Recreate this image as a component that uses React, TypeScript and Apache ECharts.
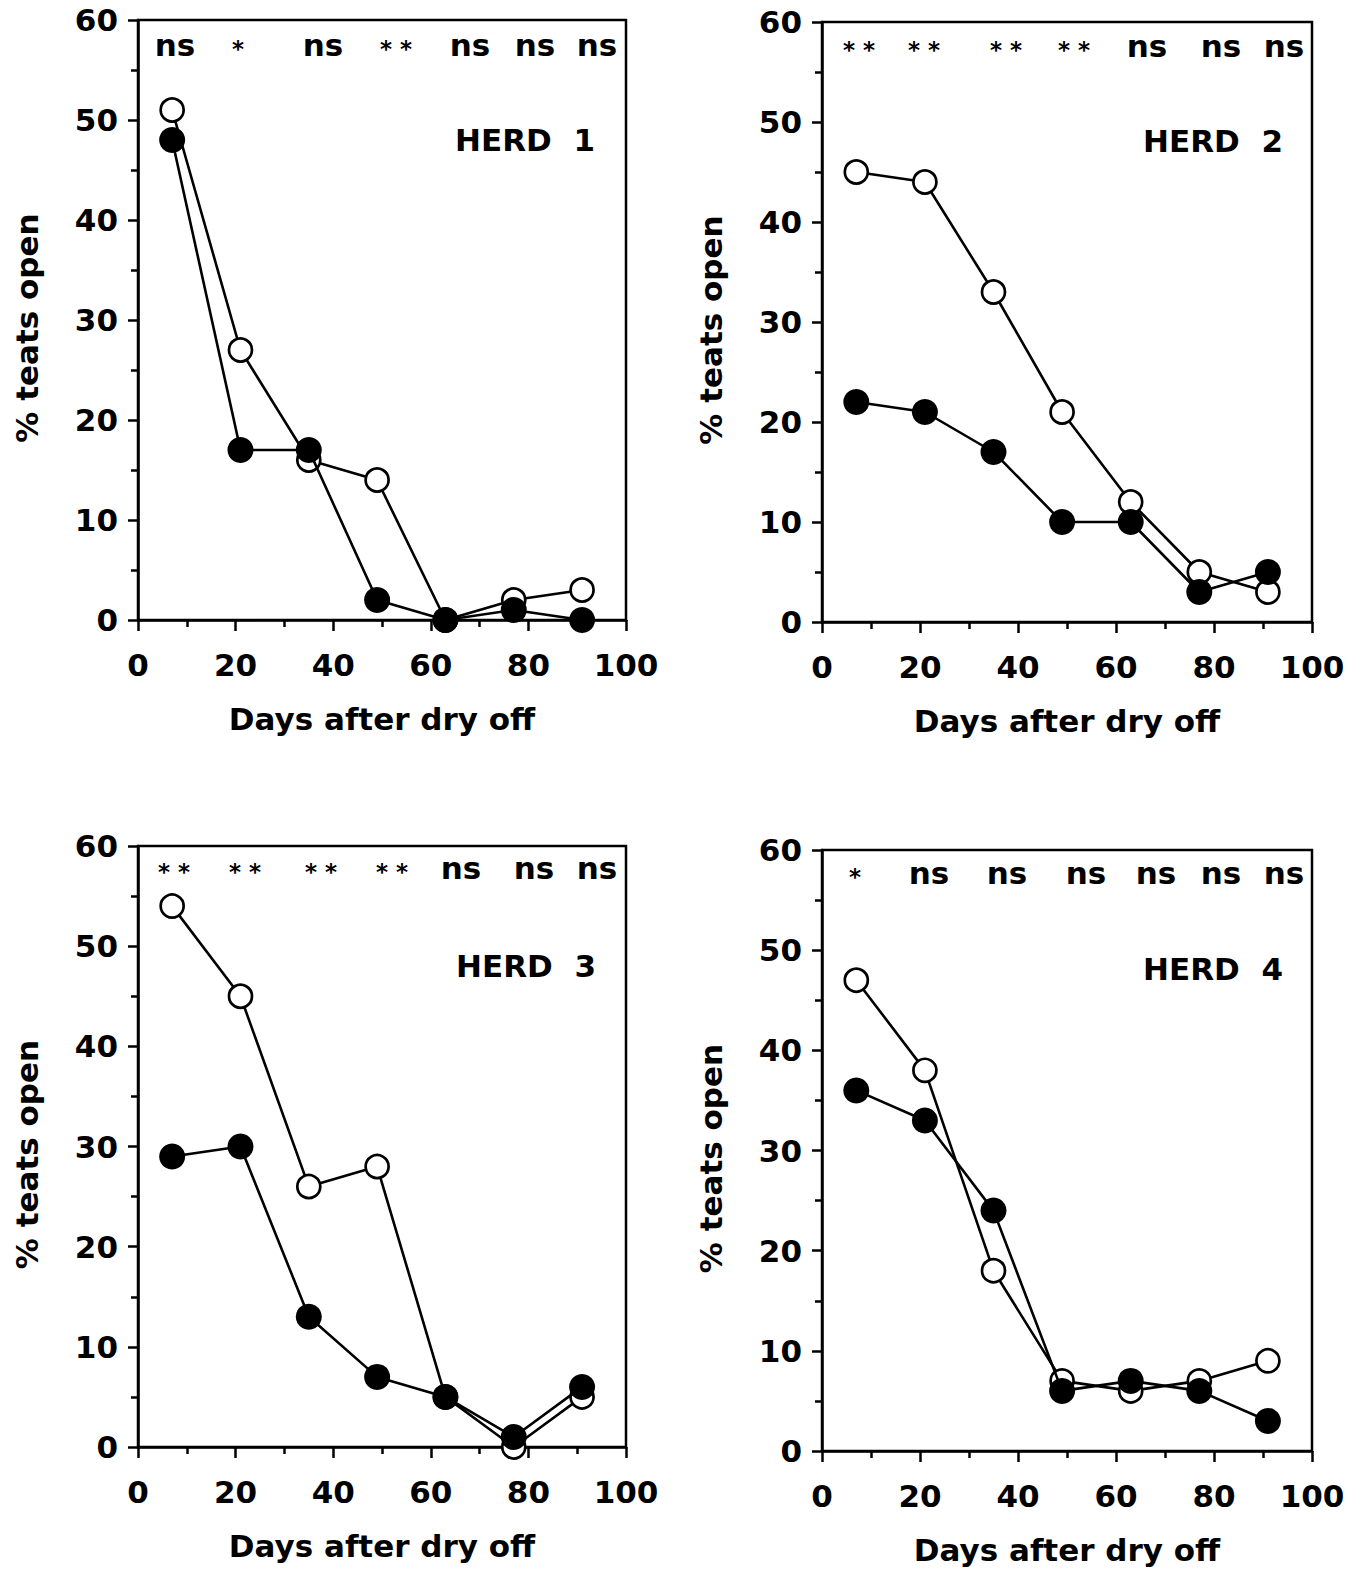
import React, { useEffect, useRef } from "react";
import * as echarts from "echarts";

const days = [7, 21, 35, 49, 63, 77, 91];

const herd1Open = [51, 27, 16, 14, 0, 2, 3];
const herd1Filled = [48, 17, 17, 2, 0, 1, 0];
const herd2Open = [45, 44, 33, 21, 12, 5, 3];
const herd2Filled = [22, 21, 17, 10, 10, 3, 5];
const herd3Open = [54, 45, 26, 28, 5, 0, 5];
const herd3Filled = [29, 30, 13, 7, 5, 1, 6];
const herd4Open = [47, 38, 18, 7, 6, 7, 9];
const herd4Filled = [36, 33, 24, 6, 7, 6, 3];

const sig1 = ["ns", "*", "ns", "**", "ns", "ns", "ns"];
const sig2 = ["**", "**", "**", "**", "ns", "ns", "ns"];
const sig3 = ["**", "**", "**", "**", "ns", "ns", "ns"];
const sig4 = ["*", "ns", "ns", "ns", "ns", "ns", "ns"];

const herdNames = ["HERD  1", "HERD  2", "HERD  3", "HERD  4"];
const xTitle = "Days after dry off";
const yTitle = "% teats open";

const FONT = "'DejaVu Sans', Verdana, sans-serif";
const FS = 31;

// layout (pixels)
const grids = [
  { left: 138, top: 20, width: 488, height: 600 },
  { left: 822, top: 22, width: 490, height: 600 },
  { left: 138, top: 846, width: 488, height: 601 },
  { left: 822, top: 850, width: 490, height: 601 },
];
const sigX = [
  [175, 238, 323, 396, 470, 535, 597],
  [859, 924, 1006, 1074, 1147, 1221, 1284],
  [174, 245, 321, 392, 461, 534, 597],
  [855, 929, 1007, 1086, 1156, 1221, 1284],
];
const sigY = [45, 46, 868, 873];
const herdPos = [
  { right: 595, y: 140 },
  { right: 1283, y: 141 },
  { right: 596, y: 966 },
  { right: 1283, y: 969 },
];

export default function App() {
  const ref = useRef<HTMLDivElement>(null);
  useEffect(() => {
    if (!ref.current) return;
    const chart = echarts.init(ref.current, null, { renderer: "svg" });
    const opens = [herd1Open, herd2Open, herd3Open, herd4Open];
    const filleds = [herd1Filled, herd2Filled, herd3Filled, herd4Filled];
    const sigs = [sig1, sig2, sig3, sig4];

    const gridOpts = grids.map((g) => ({
      ...g,
      show: true,
      borderColor: "#000",
      borderWidth: 2.5,
      backgroundColor: "transparent",
      containLabel: false,
    }));

    const xAxes = grids.map((_, i) => ({
      type: "value",
      gridIndex: i,
      min: 0,
      max: 100,
      interval: 20,
      name: xTitle,
      nameLocation: "middle",
      nameGap: 83,
      nameTextStyle: { fontSize: FS, fontWeight: "bold", color: "#000", fontFamily: FONT },
      axisLine: { show: true, lineStyle: { color: "#000", width: 2.5 } },
      axisTick: { show: true, inside: false, length: 11, lineStyle: { color: "#000", width: 2.5 } },
      minorTick: { show: true, splitNumber: 2, length: 7, lineStyle: { color: "#000", width: 2.5 } },
      splitLine: { show: false },
      minorSplitLine: { show: false },
      axisLabel: { fontSize: FS, fontWeight: "bold", color: "#000", fontFamily: FONT, margin: 29 },
    }));

    const yAxes = grids.map((_, i) => ({
      type: "value",
      gridIndex: i,
      min: 0,
      max: 60,
      interval: 10,
      name: yTitle,
      nameLocation: "middle",
      nameRotate: 90,
      nameGap: 96,
      nameTextStyle: {
        fontSize: FS,
        fontWeight: "bold",
        color: "#000",
        fontFamily: FONT,
        padding: [0, 16, 0, 0],
      },
      axisLine: { show: true, lineStyle: { color: "#000", width: 2.5 } },
      axisTick: { show: true, inside: false, length: 10, lineStyle: { color: "#000", width: 2.5 } },
      minorTick: { show: true, splitNumber: 2, length: 7, lineStyle: { color: "#000", width: 2.5 } },
      splitLine: { show: false },
      minorSplitLine: { show: false },
      axisLabel: { fontSize: FS, fontWeight: "bold", color: "#000", fontFamily: FONT, margin: 20 },
    }));

    const series: any[] = [];
    grids.forEach((_, i) => {
      series.push({
        type: "line",
        name: "Open " + (i + 1),
        xAxisIndex: i,
        yAxisIndex: i,
        data: days.map((d, k) => [d, opens[i][k]]),
        symbol: "circle",
        symbolSize: 23,
        showAllSymbol: true,
        lineStyle: { color: "#000", width: 2.6 },
        itemStyle: { color: "#fff", borderColor: "#000", borderWidth: 2.7 },
        z: 2,
      });
      series.push({
        type: "line",
        name: "Filled " + (i + 1),
        xAxisIndex: i,
        yAxisIndex: i,
        data: days.map((d, k) => [d, filleds[i][k]]),
        symbol: "circle",
        symbolSize: 26,
        showAllSymbol: true,
        lineStyle: { color: "#000", width: 2.6 },
        itemStyle: { color: "#000", borderColor: "#000", borderWidth: 0 },
        z: 3,
      });
    });

    const graphics: any[] = [];
    sigs.forEach((arr, i) => {
      arr.forEach((s, k) => {
        const isStar = s.indexOf("*") >= 0;
        graphics.push({
          type: "text",
          x: sigX[i][k],
          y: isStar ? sigY[i] + 4 : sigY[i],
          style: {
            text: isStar ? s.split("").join(" ") : s,
            fontSize: isStar ? 23 : FS,
            fontWeight: "bold",
            fontFamily: FONT,
            fill: "#000",
            align: "center",
            verticalAlign: "middle",
          },
          z: 10,
        });
      });
    });
    herdNames.forEach((h, i) => {
      graphics.push({
        type: "text",
        x: herdPos[i].right,
        y: herdPos[i].y,
        style: {
          text: h,
          fontSize: FS,
          fontWeight: "bold",
          fontFamily: FONT,
          fill: "#000",
          align: "right",
          verticalAlign: "middle",
        },
        z: 10,
      });
    });

    chart.setOption({
      animation: false,
      backgroundColor: "#fff",
      grid: gridOpts,
      xAxis: xAxes,
      yAxis: yAxes,
      series,
      graphic: graphics,
    });
    return () => chart.dispose();
  }, []);
  return (
    <div
      ref={ref}
      style={{ position: "absolute", left: 0, top: 0, width: 1371, height: 1575 }}
    />
  );
}
